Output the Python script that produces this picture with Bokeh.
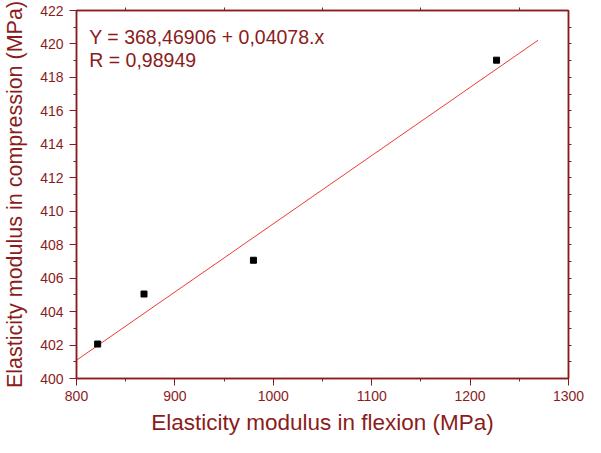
from bokeh.plotting import figure
from bokeh.models import LinearAxis, SingleIntervalTicker, FixedTicker, Label, Range1d
from bokeh.embed import file_html
from bokeh.resources import INLINE

# Data
flexion = [821.5, 868.6, 979.8, 1226.9]
compression = [402.06, 405.05, 407.07, 419.03]
intercept = 368.46906
slope = 0.04078
fit_x = [800, 1269]
fit_y = [intercept + slope * v for v in fit_x]
eq_text = "Y = 368,46906 + 0,04078.x"
r_text = "R = 0,98949"
x_minor_top = [850, 950, 1050, 1150, 1250]
y_minor_right = list(range(401, 422))

DARK = "#8b1c1c"
FONT = "Liberation Sans"

p = figure(width=585, height=437, output_backend="svg", toolbar_location=None,
           x_range=Range1d(800, 1300), y_range=Range1d(400, 422),
           x_axis_type=None, y_axis_type=None,
           min_border_left=76, min_border_right=17, min_border_top=10, min_border_bottom=59)

p.outline_line_color = DARK
p.outline_line_width = 1.5
p.background_fill_color = "white"
p.border_fill_color = "white"

xt = SingleIntervalTicker(interval=100, num_minor_ticks=2)
yt = SingleIntervalTicker(interval=2, num_minor_ticks=2)

def style(ax):
    ax.axis_line_color = DARK
    ax.axis_line_width = 1.5
    ax.major_tick_line_color = DARK
    ax.minor_tick_line_color = DARK
    ax.major_tick_in = 0
    ax.minor_tick_in = 0
    ax.major_tick_out = 7
    ax.minor_tick_out = 3
    ax.major_label_text_color = DARK
    ax.major_label_text_font = FONT
    ax.major_label_text_font_size = "14px"
    ax.axis_label_text_color = DARK
    ax.axis_label_text_font = FONT
    ax.axis_label_text_font_style = "normal"

xb = LinearAxis(ticker=xt, axis_label="Elasticity modulus in flexion (MPa)")
style(xb)
xb.axis_label_text_font_size = "22.5px"
xb.major_label_standoff = 5
xb.axis_label_standoff = 6
p.add_layout(xb, "below")

yl = LinearAxis(ticker=yt, axis_label="Elasticity modulus in compression (MPa)")
style(yl)
yl.axis_label_text_font_size = "21.5px"
yl.major_label_standoff = 6
yl.axis_label_standoff = 10
p.add_layout(yl, "left")

xtop = LinearAxis(ticker=FixedTicker(ticks=[], minor_ticks=x_minor_top))
style(xtop)
p.add_layout(xtop, "above")

yr = LinearAxis(ticker=FixedTicker(ticks=[], minor_ticks=y_minor_right))
style(yr)
p.add_layout(yr, "right")

p.xgrid.ticker = xt
p.ygrid.ticker = yt
p.xgrid.grid_line_color = "#d9d9d9"
p.ygrid.grid_line_color = "#d9d9d9"
p.xgrid.grid_line_width = 1
p.ygrid.grid_line_width = 1

p.line(fit_x, fit_y, line_color="#ee3b33", line_width=1)
p.scatter(flexion, compression, marker="square", size=6, fill_color="black", line_color="black")

p.add_layout(Label(x=813, y=420.4, text=eq_text, text_color=DARK, text_font=FONT,
                   text_font_size="19.5px", text_baseline="middle"))
p.add_layout(Label(x=813, y=419.02, text=r_text, text_color=DARK, text_font=FONT,
                   text_font_size="19.5px", text_baseline="middle"))

open("out.html", "w").write(file_html(p, INLINE))
